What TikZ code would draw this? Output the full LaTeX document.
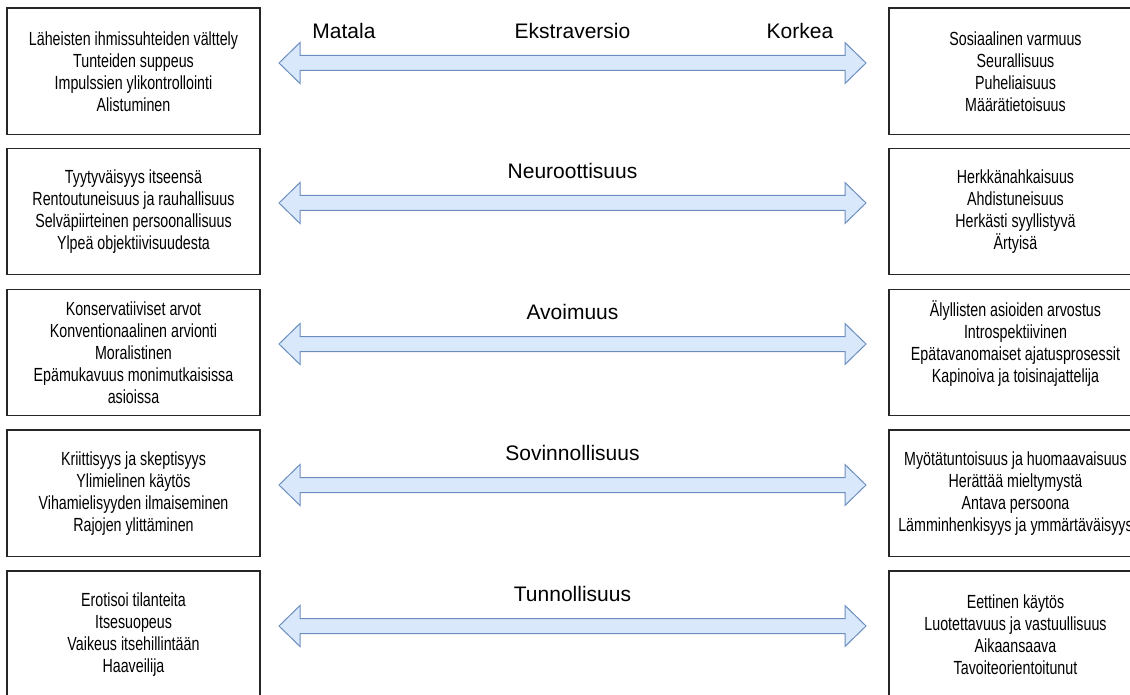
\documentclass[tikz,border=0pt]{standalone}
\usepackage{fontspec}
\setmainfont{Liberation Sans}
\newfontfamily\boxfont[FakeStretch=0.75]{Liberation Sans}
\definecolor{arrowfill}{HTML}{DAE8FC}
\definecolor{arrowline}{HTML}{6C8EBF}
\tikzset{
    traitbox/.style={draw=black!85, line width=1.2pt, minimum width=253pt, minimum height=126.5pt,
        inner sep=0pt, align=center, font=\boxfont\fontsize{19}{22}\selectfont},
    traitarrow/.style={draw=arrowline, fill=arrowfill, line width=1pt},
    traitname/.style={anchor=base, inner sep=0pt, font=\fontsize{21}{25}\selectfont}
}
\begin{document}
\begin{tikzpicture}[x=1pt, y=-1pt]
        \useasboundingbox (0, 0) rectangle (1130, 695);
        \clip (0, 0) rectangle (1130, 695);

        \draw[traitarrow] (279, 63) -- ++(21, -20.5) -- ++(0, 13) -- ++(545, 0) -- ++(0, -13) -- ++(21, 20.5)
            -- ++(-21, 20.5) -- ++(0, -13) -- ++(-545, 0) -- ++(0, 13) -- cycle;
        \draw[traitarrow] (279, 203) -- ++(21, -20.5) -- ++(0, 13) -- ++(545, 0) -- ++(0, -13) -- ++(21, 20.5)
            -- ++(-21, 20.5) -- ++(0, -13) -- ++(-545, 0) -- ++(0, 13) -- cycle;
        \draw[traitarrow] (279, 344) -- ++(21, -20.5) -- ++(0, 13) -- ++(545, 0) -- ++(0, -13) -- ++(21, 20.5)
            -- ++(-21, 20.5) -- ++(0, -13) -- ++(-545, 0) -- ++(0, 13) -- cycle;
        \draw[traitarrow] (279, 485) -- ++(21, -20.5) -- ++(0, 13) -- ++(545, 0) -- ++(0, -13) -- ++(21, 20.5)
            -- ++(-21, 20.5) -- ++(0, -13) -- ++(-545, 0) -- ++(0, 13) -- cycle;
        \draw[traitarrow] (279, 626) -- ++(21, -20.5) -- ++(0, 13) -- ++(545, 0) -- ++(0, -13) -- ++(21, 20.5)
            -- ++(-21, 20.5) -- ++(0, -13) -- ++(-545, 0) -- ++(0, 13) -- cycle;

        \node[traitname] (matala) at (344, 38.5) {Matala};
        \node[traitname] (korkea) at (800, 38.5) {Korkea};
        \node[traitname] (ekstra) at (572.5, 38.5) {Ekstraversio};
        \node[traitname] (neuro) at (572.5, 178.5) {Neuroottisuus};
        \node[traitname] (avoin) at (572.5, 319.5) {Avoimuus};
        \node[traitname] (sovin) at (572.5, 460.5) {Sovinnollisuus};
        \node[traitname] (tunno) at (572.5, 601.5) {Tunnollisuus};

        \node[traitbox] (ekstraLow) at (133.5, 71.25) {Läheisten ihmissuhteiden välttely\\Tunteiden suppeus\\Impulssien ylikontrollointi\\Alistuminen};
        \node[traitbox] (neuroLow) at (133.5, 211.5) {Tyytyväisyys itseensä\\Rentoutuneisuus ja rauhallisuus\\Selväpiirteinen persoonallisuus\\Ylpeä objektiivisuudesta};
        \node[traitbox] (avoinLow) at (133.5, 352.5) {Konservatiiviset arvot\\Konventionaalinen arvionti\\Moralistinen\\Epämukavuus monimutkaisissa\\asioissa};
        \node[traitbox] (sovinLow) at (133.5, 493.25) {Kriittisyys ja skeptisyys\\Ylimielinen käytös\\Vihamielisyyden ilmaiseminen\\Rajojen ylittäminen};
        \node[traitbox] (tunnoLow) at (133.5, 634.25) {Erotisoi tilanteita\\Itsesuopeus\\Vaikeus itsehillintään\\Haaveilija};

        \node[traitbox] (ekstraHigh) at (1015.5, 71.25) {Sosiaalinen varmuus\\Seurallisuus\\Puheliaisuus\\Määrätietoisuus};
        \node[traitbox] (neuroHigh) at (1015.5, 211.5) {Herkkänahkaisuus\\Ahdistuneisuus\\Herkästi syyllistyvä\\Ärtyisä};
        \node[traitbox] (avoinHigh) at (1015.5, 352.5) {Älyllisten asioiden arvostus\\Introspektiivinen\\Epätavanomaiset ajatusprosessit\\Kapinoiva ja toisinajattelija\\\mbox{}};
        \node[traitbox] (sovinHigh) at (1015.5, 493.25) {Myötätuntoisuus ja huomaavaisuus\\Herättää mieltymystä\\Antava persoona\\Lämminhenkisyys ja ymmärtäväisyys};
        \node[traitbox] (tunnoHigh) at (1015.5, 634.25) {Eettinen käytös\\Luotettavuus ja vastuullisuus\\Aikaansaava\\Tavoiteorientoitunut};

\end{tikzpicture}
\end{document}
